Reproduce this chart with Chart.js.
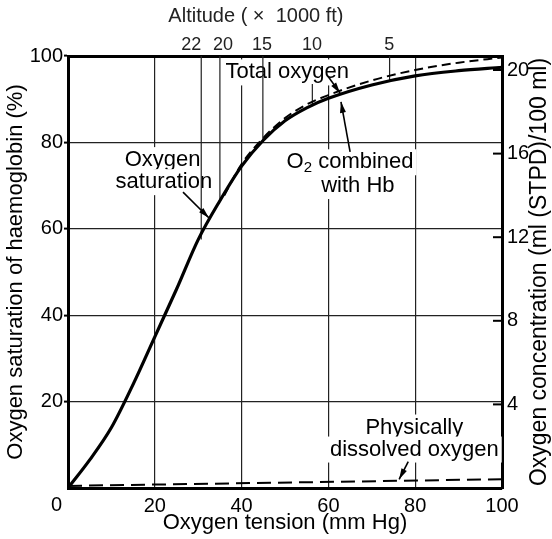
<!DOCTYPE html>
<html>
<head>
<meta charset="utf-8">
<script src="https://cdn.jsdelivr.net/npm/chart.js@4.4.0/dist/chart.umd.min.js"></script>
<style>
  html, body { margin: 0; padding: 0; background: #fff; }
  #wrap { width: 552px; height: 539px; position: relative; }
</style>
</head>
<body>
<div id="wrap"><canvas id="odcChart"></canvas></div>
<script>
// Oxygen saturation curve (mm Hg -> % saturation)
var satTension = [0, 5, 10, 15, 20, 25, 30, 35, 40, 45, 50, 55, 60, 70, 80, 90, 100];
var satPercent = [0, 6.5, 14, 24, 35, 46, 57.5, 66.5, 74.5, 80.5, 85, 88, 90.2, 93.3, 95.4, 96.6, 97.4];

// Total oxygen content (ml/100 ml), right axis
var totalTension = [36, 40, 45, 50, 55, 60, 70, 80, 90, 100];
var totalContent = [14.0, 15.5, 16.75, 17.7, 18.35, 18.8, 19.5, 20.0, 20.35, 20.6];

// Physically dissolved oxygen (ml/100 ml)
var dissolvedTension = [0, 100];
var dissolvedContent = [0.1, 0.42];

// Altitude markers (x 1000 ft) on the top axis
var altitudeLabels = ['22', '20', '15', '10', '5'];
var altitudeLabelTension = [28.4, 35.7, 44.7, 56.2, 74.0];
var altitudeTension = [30.7, 35.0, 44.9, 56.3, 74.1];
var altitudeFrom = [100, 100, 100, 93.5, 100];
var altitudeTo = [57.5, 66.2, 80.5, 88.8, 94.4];

var xTicks = [0, 20, 40, 60, 80, 100];
var yTicks = [20, 40, 60, 80, 100];
var contentTicks = [4, 8, 12, 16, 20];

function pts(xs, ys) {
    return xs.map(function (v, i) { return { x: v, y: ys[i] }; });
}

var datasets = [
    {
        label: 'Oxygen saturation',
        data: pts(satTension, satPercent),
        yAxisID: 'y',
        borderColor: '#000',
        borderWidth: 3.2,
        pointRadius: 0,
        cubicInterpolationMode: 'monotone'
    },
    {
        label: 'Total oxygen',
        data: pts(totalTension, totalContent),
        yAxisID: 'y2',
        borderColor: '#000',
        borderWidth: 2,
        borderDash: [9, 5],
        pointRadius: 0,
        cubicInterpolationMode: 'monotone'
    },
    {
        label: 'Physically dissolved oxygen',
        data: pts(dissolvedTension, dissolvedContent),
        yAxisID: 'y2',
        borderColor: '#000',
        borderWidth: 2,
        borderDash: [14, 7],
        pointRadius: 0
    }
];

// vertical altitude lines, from the top down to the curve
altitudeTension.forEach(function (t, i) {
    datasets.push({
        label: 'alt ' + altitudeLabels[i],
        data: [{ x: t, y: altitudeFrom[i] }, { x: t, y: altitudeTo[i] }],
        yAxisID: 'y',
        borderColor: '#222',
        borderWidth: 1.2,
        pointRadius: 0
    });
});

var FONT = '"Liberation Sans", Arial, Helvetica, sans-serif';

// text labels: [text, tension, saturation]
var notes = [
    ['Total oxygen', 50.5, 96.2],
    ['Oxygen', 21.8, 75.9],
    ['saturation', 22.1, 70.8],
    ['O2 combined', 65.0, 75.4],
    ['with Hb', 66.8, 69.9],
    ['Physically', 79.8, 14.0],
    ['dissolved oxygen', 79.8, 8.9]
];
// pointer arrows: [fromX, fromY, toX, toY] in tension / saturation
var arrows = [
    [26.5, 68.5, 32.5, 62.5],
    [59.9, 95.3, 62.7, 91.4],
    [65.0, 77.8, 62.9, 89.4],
    [78.4, 6.1, 76.3, 2.0]
];

function drawNote(ctx, text, px, py) {
    if (text.indexOf('O2') === 0) {
        var rest = text.slice(2);
        ctx.font = '22px ' + FONT;
        var wO = ctx.measureText('O').width;
        var wR = ctx.measureText(rest).width;
        ctx.font = '15px ' + FONT;
        var w2 = ctx.measureText('2').width;
        var w = wO + w2 + wR;
        ctx.fillStyle = '#fff';
        ctx.fillRect(px - w / 2 - 3, py - 13, w + 6, 26);
        ctx.fillStyle = '#000';
        ctx.textAlign = 'left';
        var x0 = px - w / 2;
        ctx.font = '22px ' + FONT;
        ctx.fillText('O', x0, py);
        ctx.font = '15px ' + FONT;
        ctx.fillText('2', x0 + wO, py + 6);
        ctx.font = '22px ' + FONT;
        ctx.fillText(rest, x0 + wO + w2, py);
        return;
    }
    ctx.font = '22px ' + FONT;
    var tw = ctx.measureText(text).width;
    ctx.fillStyle = '#fff';
    ctx.fillRect(px - tw / 2 - 3, py - 13, tw + 6, 26);
    ctx.fillStyle = '#000';
    ctx.textAlign = 'center';
    ctx.fillText(text, px, py);
}

function drawArrow(ctx, x0, y0, x1, y1) {
    var a = Math.atan2(y1 - y0, x1 - x0);
    ctx.beginPath();
    ctx.moveTo(x0, y0);
    ctx.lineTo(x1, y1);
    ctx.stroke();
    ctx.beginPath();
    ctx.moveTo(x1, y1);
    ctx.lineTo(x1 - 11 * Math.cos(a) + 3 * Math.sin(a), y1 - 11 * Math.sin(a) - 3 * Math.cos(a));
    ctx.lineTo(x1 - 11 * Math.cos(a) - 3 * Math.sin(a), y1 - 11 * Math.sin(a) + 3 * Math.cos(a));
    ctx.closePath();
    ctx.fill();
}

var notesPlugin = {
    id: 'notes',
    beforeDatasetsDraw: function (chart) {
        var ctx = chart.ctx, sx = chart.scales.x, sy = chart.scales.y;
        ctx.save();
        ctx.textBaseline = 'middle';
        notes.forEach(function (n) {
            drawNote(ctx, n[0], sx.getPixelForValue(n[1]), sy.getPixelForValue(n[2]));
        });
        ctx.restore();
    },
    afterDatasetsDraw: function (chart) {
        var ctx = chart.ctx, sx = chart.scales.x, sy = chart.scales.y, s2 = chart.scales.y2;
        var area = chart.chartArea;
        ctx.save();
        ctx.strokeStyle = '#000';
        ctx.fillStyle = '#000';
        ctx.lineWidth = 1.6;
        arrows.forEach(function (a) {
            drawArrow(ctx, sx.getPixelForValue(a[0]), sy.getPixelForValue(a[1]),
                sx.getPixelForValue(a[2]), sy.getPixelForValue(a[3]));
        });
        // inward tick marks of the right axis
        ctx.lineWidth = 2;
        contentTicks.forEach(function (v) {
            var py = s2.getPixelForValue(v);
            ctx.beginPath();
            ctx.moveTo(area.right - 9, py);
            ctx.lineTo(area.right, py);
            ctx.stroke();
        });
        // shared corner zero
        ctx.font = '20px ' + FONT;
        ctx.textAlign = 'right';
        ctx.textBaseline = 'middle';
        ctx.fillText('0', area.left - 6, area.bottom + 17);

        // altitude axis title, sits left of centre
        ctx.font = '20px ' + FONT;
        ctx.fillStyle = '#222';
        ctx.textAlign = 'center';
        ctx.fillText('Altitude ( \u00d7  1000 ft)', sx.getPixelForValue(43.3), 16);

        // right axis title, reads bottom to top
        ctx.fillStyle = '#000';
        ctx.font = '23px ' + FONT;
        ctx.translate(chart.width - 6, (area.top + area.bottom) / 2);
        ctx.rotate(-Math.PI / 2);
        ctx.textBaseline = 'alphabetic';
        ctx.fillText('Oxygen concentration (ml (STPD)/100 ml)', 0, 0);
        ctx.restore();
    }
};

Chart.defaults.font.family = FONT;
Chart.defaults.color = '#000';

var ctxOdc = document.getElementById('odcChart').getContext('2d');
var odcChart = new Chart(ctxOdc, {
    type: 'line',
    data: { datasets: datasets },
    options: {
        responsive: true,
        maintainAspectRatio: false,
        animation: false,
        layout: { padding: 0 },
        plugins: {
            legend: { display: false },
            tooltip: { enabled: false }
        },
        scales: {
            x: {
                type: 'linear',
                position: 'bottom',
                min: 0,
                max: 100,
                afterBuildTicks: function (s) { s.ticks = xTicks.map(function (v) { return { value: v }; }); },
                ticks: {
                    callback: function (v) { return v === 0 ? '' : v; },
                    font: { size: 20 },
                    padding: 6,
                    maxRotation: 0
                },
                grid: { color: '#222', lineWidth: 1.2, drawTicks: false },
                border: { width: 3, color: '#000' },
                title: {
                    display: true,
                    text: 'Oxygen tension (mm Hg)',
                    font: { size: 22 },
                    padding: { top: 0, bottom: 3 }
                },
                afterFit: function (s) { s.height = 51; }
            },
            x2: {
                type: 'linear',
                position: 'top',
                min: 0,
                max: 100,
                afterBuildTicks: function (s) { s.ticks = altitudeLabelTension.map(function (v) { return { value: v }; }); },
                ticks: {
                    autoSkip: false,
                    maxRotation: 0,
                    color: '#222',
                    font: { size: 18 },
                    padding: 0,
                    callback: function (v, i) { return altitudeLabels[i]; }
                },
                grid: { drawOnChartArea: false, drawTicks: false },
                border: { width: 3, color: '#000' },
                afterFit: function (s) { s.height = 56; }
            },
            y: {
                position: 'left',
                min: 0,
                max: 100,
                afterBuildTicks: function (s) { s.ticks = yTicks.map(function (v) { return { value: v }; }); },
                ticks: { font: { size: 20 }, padding: 1 },
                grid: { color: '#222', lineWidth: 1.2, tickLength: 4, tickColor: '#000', tickWidth: 2 },
                border: { width: 3, color: '#000' },
                title: {
                    display: true,
                    text: 'Oxygen saturation of haemoglobin (%)',
                    font: { size: 22 },
                    padding: { top: 3, bottom: 0 }
                },
                afterFit: function (s) { s.width = 68; }
            },
            y2: {
                position: 'right',
                min: 0,
                max: 20.67,
                afterBuildTicks: function (s) { s.ticks = contentTicks.map(function (v) { return { value: v }; }); },
                ticks: { font: { size: 20 }, padding: 5 },
                grid: { drawOnChartArea: false, drawTicks: false },
                border: { width: 3, color: '#000' },
                afterFit: function (s) { s.width = 50; }
            }
        }
    },
    plugins: [notesPlugin]
});
</script>
</body>
</html>
